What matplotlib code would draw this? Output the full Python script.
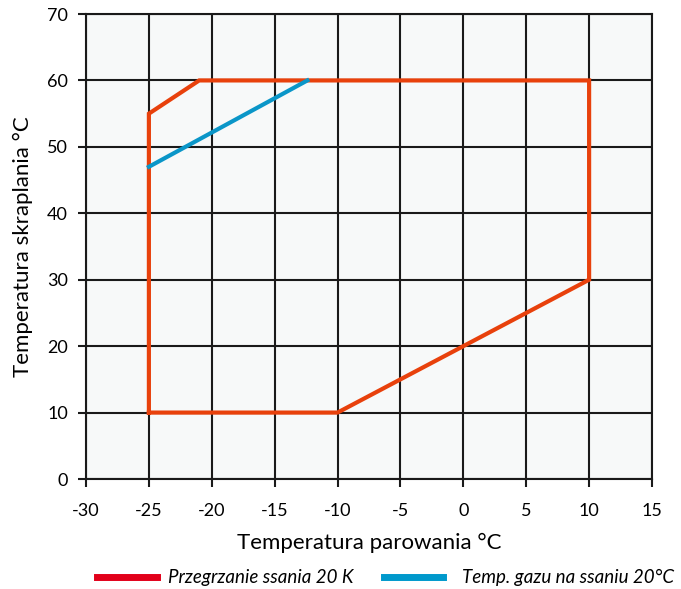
import matplotlib
matplotlib.use("Agg")
import matplotlib.pyplot as plt
from matplotlib.lines import Line2D

plt.rcParams['font.family'] = ['Lato', 'DejaVu Sans']

# Envelope (orange) polygon
env_x = [-25, -10, 10, 10, -21, -25, -25]
env_y = [10, 10, 30, 60, 60, 55, 10]
# Blue line
blue_x = [-25, -12.4]
blue_y = [47, 60]

xticks = list(range(-30, 16, 5))
yticks = list(range(0, 71, 10))
legend_labels = ["Przegrzanie ssania 20 K", "Temp. gazu na ssaniu 20°C"]

W, H = 681, 589
fig = plt.figure(figsize=(W / 100, H / 100), dpi=100)
ax = fig.add_axes([86 / W, 1 - 479 / H, (652 - 86) / W, (479 - 14) / H])
ax.set_facecolor('#f7f9f9')
ax.set_xlim(-30, 15)
ax.set_ylim(0, 70)
ax.set_xticks(xticks)
ax.set_yticks(yticks)
ax.set_xticklabels([str(v) for v in xticks])
ax.set_yticklabels([str(v) for v in yticks])
ax.grid(True, color='#1a1a1a', linewidth=1.5)
ax.set_axisbelow(True)
for s in ax.spines.values():
    s.set_color('#1a1a1a')
    s.set_linewidth(1.5)
ax.tick_params(direction='out', length=6, width=1.5, color='#1a1a1a',
               labelsize=13)
ax.tick_params(axis='x', pad=11)
ax.tick_params(axis='y', pad=7)

ax.plot(env_x, env_y, color='#e8410c', linewidth=3, solid_joinstyle='miter', clip_on=False, zorder=3)
ax.plot(blue_x, blue_y, color='#0a96c8', linewidth=3, zorder=3)

ax.set_xlabel("Temperatura parowania °C", fontsize=16, labelpad=10)
ax.set_ylabel("Temperatura skraplania °C", fontsize=16, labelpad=10)

# Manual legend
ly = 1 - 577 / H
fig.add_artist(Line2D([97 / W, 157 / W], [ly, ly], color='#e2001a', linewidth=5, transform=fig.transFigure))
fig.text(168 / W, ly, legend_labels[0], fontsize=13.5, style='italic', va='center', ha='left')
fig.add_artist(Line2D([384 / W, 443 / W], [ly, ly], color='#0099cc', linewidth=5, transform=fig.transFigure))
fig.text(462 / W, ly, legend_labels[1], fontsize=13.5, style='italic', va='center', ha='left')

fig.savefig('out.png', dpi=100, facecolor='white')
